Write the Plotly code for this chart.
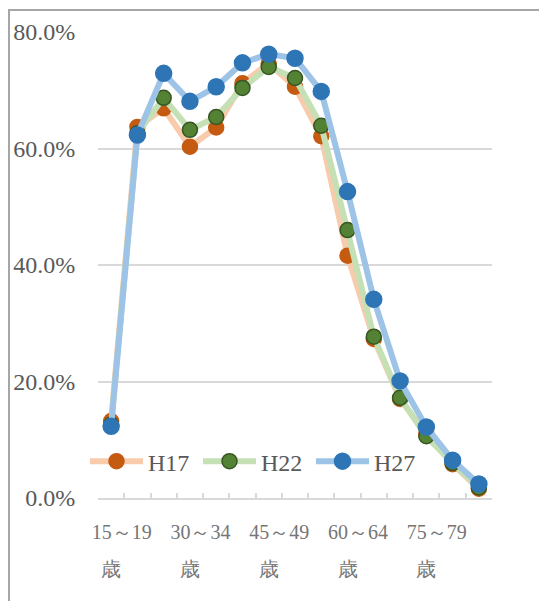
import plotly.graph_objects as go

age_groups = ["15～19歳", "20～24歳", "25～29歳", "30～34歳", "35～39歳", "40～44歳",
              "45～49歳", "50～54歳", "55～59歳", "60～64歳", "65～69歳", "70～74歳",
              "75～79歳", "80～84歳", "85歳以上"]
tick_text = ["15～19", "", "", "30～34", "", "", "45～49", "", "", "60～64", "", "",
             "75～79", "", ""]
h17 = [13.2, 63.7, 66.9, 60.3, 63.6, 71.2, 74.6, 70.6, 62.1, 41.6, 27.3, 17.0, 11.0, 5.8, 1.6]
h22 = [12.6, 62.6, 68.7, 63.2, 65.4, 70.4, 74.0, 72.1, 63.9, 46.0, 27.7, 17.2, 10.6, 6.0, 1.8]
h27 = [12.3, 62.3, 72.9, 68.1, 70.6, 74.7, 76.2, 75.5, 69.8, 52.6, 34.1, 20.1, 12.2, 6.5, 2.4]
series_names = ["H17", "H22", "H27"]

# the page body has an 8px margin: figure coordinates = screen coordinates - 8
OFF = 8
W, H = 547 - OFF, 601 - OFF
L, R, T, B = 98 - OFF, 55, 32 - OFF, 102.5
PW, PH = W - L - R, H - T - B


def px_x(px):
    return (px - OFF - L) / PW


def px_y(py):
    return (H - B - (py - OFF)) / PH


SERIF = "Liberation Serif"
styles = [
    dict(line="#F8CBAD", marker="#C55A11", outline="#C55A11", size=15),
    dict(line="#C5E0B4", marker="#548235", outline="#375623", size=15),
    dict(line="#9DC3E6", marker="#2E75B6", outline="#2E75B6", size=16),
]

fig = go.Figure()
for name, vals, st in zip(series_names, [h17, h22, h27], styles):
    fig.add_trace(go.Scatter(
        x=age_groups, y=vals, name=name, mode="lines+markers",
        line=dict(color=st["line"], width=6),
        marker=dict(color=st["marker"], size=st["size"],
                    line=dict(color=st["outline"], width=1.5)),
    ))

ticktext = []
for t in tick_text:
    if t:
        ticktext.append("&nbsp;&nbsp;&nbsp;" + '<span style="font-size:20px">' + t +
                        '</span><br><span style="font-size:20px">歳</span>')
    else:
        ticktext.append("")

fig.update_layout(
    width=W, height=H,
    margin=dict(l=L, r=R, t=T, b=B, pad=0, autoexpand=False),
    paper_bgcolor="white", plot_bgcolor="white",
    showlegend=True,
    legend=dict(orientation="h", xref="container", x=(85 - OFF) / W, xanchor="left",
                y=px_y(462), yanchor="middle",
                font=dict(family=SERIF, size=24, color="#595959"),
                bgcolor="rgba(0,0,0,0)", itemwidth=53,
                entrywidth=45, entrywidthmode="pixels", tracegroupgap=0),
    xaxis=dict(
        type="category", range=[-0.5, len(age_groups) - 0.5],
        tickmode="array", tickvals=age_groups, ticktext=ticktext,
        tickson="boundaries", ticks="inside", ticklen=5, tickwidth=1.5, tickcolor="#D9D9D9",
        showline=True, linecolor="#D9D9D9", linewidth=1.5, showgrid=False,
        tickfont=dict(family=SERIF, size=28, color="#767676"),
        ticklabelstandoff=6, tickangle=0, automargin=False,
    ),
    yaxis=dict(
        range=[0, 80], tickmode="linear", tick0=0, dtick=20,
        tickformat=".1f", ticksuffix="%",
        showgrid=True, gridcolor="#D9D9D9", gridwidth=1.5, zeroline=False, showline=False,
        ticks="outside", ticklen=17, tickcolor="rgba(0,0,0,0)",
        tickfont=dict(family=SERIF, size=24, color="#595959"), automargin=False,
    ),
    shapes=[
        dict(type="line", xref="paper", yref="paper", x0=px_x(8), x1=px_x(560),
             y0=px_y(10), y1=px_y(10), line=dict(color="#A6A6A6", width=2)),
        dict(type="line", xref="paper", yref="paper", x0=px_x(9), x1=px_x(9),
             y0=px_y(10), y1=px_y(620), line=dict(color="#A6A6A6", width=2)),
    ],
)

fig.write_html("out.html")
